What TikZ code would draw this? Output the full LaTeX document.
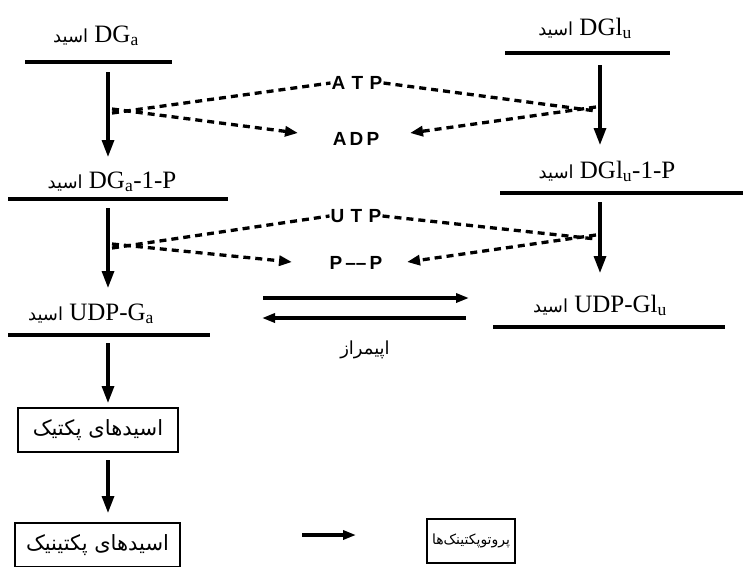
\documentclass[tikz,border=0pt]{standalone}
\usepackage{fontspec}
\setmainfont{Liberation Serif}
\newfontfamily\arabicfont[Script=Arabic]{DejaVu Sans}
\newfontfamily\lblfont{Liberation Sans}
\TeXXeTstate=1
\usetikzlibrary{arrows.meta}
\newcommand\acidword{{\arabicfont\fontsize{18}{20}\selectfont\beginR اسید\endR}}
\tikzset{
  baseline/.style={line width=4pt},
  varrow/.style={line width=3.2pt,-{Triangle[length=17pt,width=12pt]}},
  dashline/.style={line width=3.3pt,dash pattern=on 7pt off 5pt},
  dasharrow/.style={dashline,-{Triangle[length=13pt,width=10pt]}},
  eqarrow/.style={line width=3.2pt,-{Triangle[length=13pt,width=9pt]}},
  lbl/.style={font=\fontsize{25}{27}\selectfont,inner sep=0pt,anchor=base},
  nuc/.style={font=\lblfont\bfseries\fontsize{19}{21}\selectfont,inner sep=1pt},
  boxnode/.style={draw,line width=1.5pt,inner sep=0pt,font=\arabicfont\fontsize{21}{23}\selectfont}
}
\begin{document}
\begin{tikzpicture}[x=1pt,y=-1pt]
\useasboundingbox (0,0) rectangle (743,566);
% labels
\node[lbl] (l1) at (96,42) {\acidword\ DG\textsubscript{a}};
\node[lbl] (r1) at (585,35) {\acidword\ DGl\textsubscript{u}};
\node[lbl] (l2) at (112,188) {\acidword\ DG\textsubscript{a}-1-P};
\node[lbl] (r2) at (607,178) {\acidword\ DGl\textsubscript{u}-1-P};
\node[lbl] (l3) at (91,320) {\acidword\ UDP-G\textsubscript{a}};
\node[lbl] (r3) at (600,312) {\acidword\ UDP-Gl\textsubscript{u}};
% lines under labels
\draw[baseline] (25,62) -- (172,62);
\draw[baseline] (505,53) -- (670,53);
\draw[baseline] (8,199) -- (228,199);
\draw[baseline] (500,193) -- (743,193);
\draw[baseline] (8,335) -- (210,335);
\draw[baseline] (493,327) -- (725,327);
% coordinates
\coordinate (a1s) at (108,72);  \coordinate (a1e) at (108,157);
\coordinate (a2s) at (108,208); \coordinate (a2e) at (108,288);
\coordinate (a3s) at (108,343); \coordinate (a3e) at (108,403);
\coordinate (a4s) at (108,460); \coordinate (a4e) at (108,513);
\coordinate (b1s) at (600,65);  \coordinate (b1e) at (600,145);
\coordinate (b2s) at (600,202); \coordinate (b2e) at (600,273);
\draw[varrow] (a1s) -- (a1e);
\draw[varrow] (a2s) -- (a2e);
\draw[varrow] (a3s) -- (a3e);
\draw[varrow] (a4s) -- (a4e);
\draw[varrow] (b1s) -- (b1e);
\draw[varrow] (b2s) -- (b2e);
% nucleotides
\node[nuc] (atp) at (357,83) {A\,\,T\,\,P};
\node[nuc] (adp) at (356,139) {A\,D\,P};
\node[nuc] (utp) at (356,216) {U\,\,T\,\,P};
\node[nuc] (pp) at (356,263) {P\,\textendash\textendash\,P};
% junctions
\coordinate (j1) at (112,111);
\coordinate (k1) at (596,109);
\coordinate (j2) at (112,246);
\coordinate (k2) at (596,237);
\coordinate (adpl) at (298,133);
\coordinate (adpr) at (410,133);
\coordinate (ppl) at (292,262);
\coordinate (ppr) at (407,262);
\draw[dashline] ([yshift=-2pt]j1) -- (atp.west);
\draw[dasharrow] ([yshift=2pt]j1) -- (adpl);
\draw[dashline] (atp.east) -- ([yshift=-2pt]k1);
\draw[dasharrow] ([yshift=2pt]k1) -- (adpr);
\draw[dashline] ([yshift=-2pt]j2) -- (utp.west);
\draw[dasharrow] ([yshift=2pt]j2) -- (ppl);
\draw[dashline] (utp.east) -- ([yshift=-2pt]k2);
\draw[dasharrow] ([yshift=2pt]k2) -- (ppr);
% equilibrium
\coordinate (e1s) at (263,298); \coordinate (e1e) at (469,298);
\coordinate (e2s) at (466,318); \coordinate (e2e) at (262,318);
\draw[eqarrow] (e1s) -- (e1e);
\draw[eqarrow] (e2s) -- (e2e);
\node[font=\arabicfont\fontsize{18}{20}\selectfont] (epi) at (365,350) {\beginR اپیمراز\endR};
% boxes
\node[boxnode,minimum width=160pt,minimum height=44pt] (bx1) at (98,430) {\beginR اسیدهای پکتیک\endR};
\node[boxnode,minimum width=165pt,minimum height=44pt] (bx2) at (97.5,545) {\beginR اسیدهای پکتینیک\endR};
\node[boxnode,minimum width=88pt,minimum height=44pt,font=\arabicfont\fontsize{14}{16}\selectfont] (bx3) at (471,541) {\beginR پروتوپکتینک‌ها\endR};
\coordinate (h1) at (302,535); \coordinate (h2) at (356,535);
\draw[eqarrow] (h1) -- (h2);
\end{tikzpicture}
\end{document}
